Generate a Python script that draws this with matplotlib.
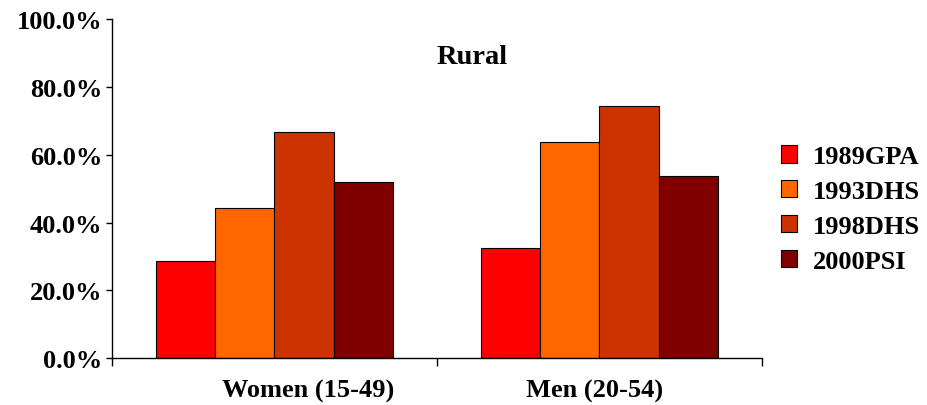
import matplotlib.pyplot as plt
import numpy as np
from matplotlib.transforms import blended_transform_factory

groups = ['Women (15-49)', 'Men (20-54)']
surveys = ['1989GPA', '1993DHS', '1998DHS', '2000PSI']
values = {
    '1989GPA': [28.6, 32.4],
    '1993DHS': [44.4, 63.8],
    '1998DHS': [66.6, 74.4],
    '2000PSI': [51.9, 53.6],
}
colors = ['#FF0000', '#FF6600', '#CC3300', '#800000']

plt.rcParams['font.family'] = 'Liberation Serif'
plt.rcParams['font.weight'] = 'bold'

fig = plt.figure(figsize=(9.27, 4.06), dpi=100)
ax = fig.add_axes([0.1208, 0.115, 0.701, 0.836])

x = np.arange(len(groups))
w = 0.1825
for i, s in enumerate(surveys):
    ax.bar(x + (i - 1.5) * w, values[s], width=w, color=colors[i],
           edgecolor='black', linewidth=0.8, label=s)

ax.set_xlim(-0.5, 1.5)
ax.set_ylim(0, 100)
ax.set_yticks(np.arange(0, 101, 20))
ax.set_yticklabels(['%.1f%%' % v for v in np.arange(0, 101, 20)], fontsize=19)
ax.tick_params(axis='y', direction='out', length=4, width=1, pad=3)

ax.set_xticks([-0.5, 0.5, 1.5])
ax.set_xticklabels([])
ax.tick_params(axis='x', which='major', direction='out', length=6, width=1)

# category labels sit a bit off the group centres in the original
trans = blended_transform_factory(ax.transData, fig.transFigure)
label_x = [0.103, 0.986]
for lx, g in zip(label_x, groups):
    ax.text(lx, 1 - 391 / 406, g, transform=trans, ha='center', va='center',
            fontsize=19, fontweight='bold')

for sp in ['top', 'right']:
    ax.spines[sp].set_visible(False)
for sp in ['left', 'bottom']:
    ax.spines[sp].set_linewidth(1)

fig.text(472.5 / 927, 1 - 57 / 406, 'Rural', ha='center', va='center',
         fontsize=20.5, fontweight='bold')

fig.legend(loc='center left', bbox_to_anchor=(0.842, 0.483), frameon=False,
           fontsize=19, handlelength=0.64, handleheight=0.64, handletextpad=0.6,
           labelspacing=0.45, borderpad=0, borderaxespad=0)

fig.savefig('out.png', dpi=100)
